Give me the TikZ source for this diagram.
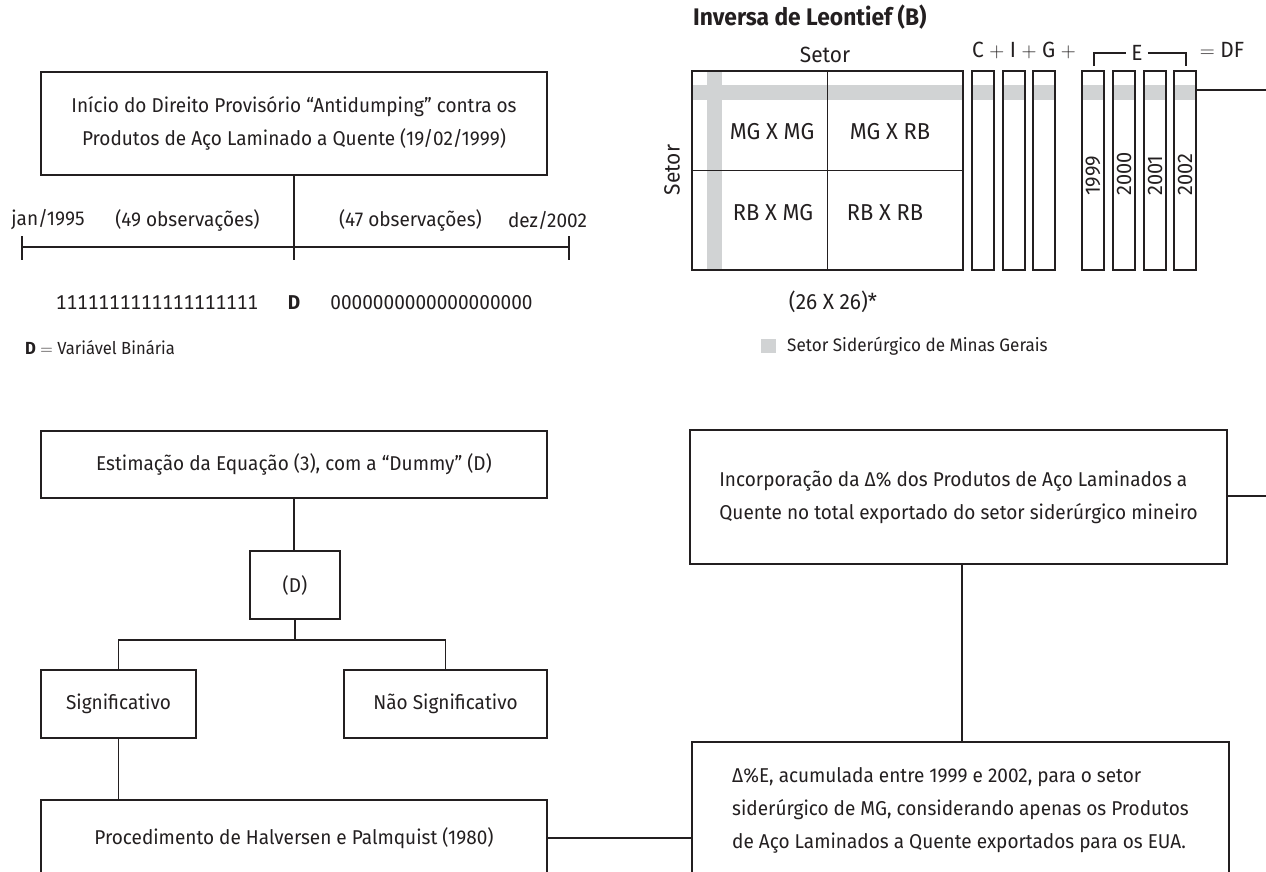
\documentclass[tikz,border=0pt]{standalone}
\usepackage{fontspec}
\setmainfont{Fira Sans}[FakeStretch=0.95]
\definecolor{ink}{RGB}{35,31,32}
\definecolor{mgband}{RGB}{209,211,212}
\tikzset{
  box/.style={draw=ink, line width=1.1pt, inner sep=0pt, align=center,
    text=ink, font=\fontsize{20}{33}\selectfont},
  leftbox/.style={box, align=left, minimum width=537},
  lbl/.style={inner sep=0pt, text=ink, font=\fontsize{20}{33}\selectfont},
  big/.style={lbl, font=\fontsize{23}{26}\selectfont},
  colbox/.style={draw=ink, line width=1.1pt, minimum width=22, minimum height=199, inner sep=0pt},
  conn/.style={draw=ink, line width=1.1pt}
}
\begin{document}
\begin{tikzpicture}[x=1pt, y=-1pt]
  \useasboundingbox (0,0) rectangle (1266,871);
  \clip (0,0) rectangle (1266,871);

  % periodo da amostra
  \node[box, minimum width=506, minimum height=103] (inicio) at (294,123.5)
    {Início do Direito Provisório “Antidumping” contra os\\Produtos de Aço Laminado a Quente (19/02/1999)};
  \coordinate (t0) at (22,247);
  \coordinate (t1) at (569,247);
  \coordinate (tm) at (294,260);
  \draw[conn] (t0) -- (t1);
  \draw[conn] (22,236) -- (22,260);
  \draw[conn] (569,236) -- (569,260);
  \draw[conn] (inicio.south) -- (tm);
  \node[lbl] (jan) at (48,220) {jan/1995};
  \node[lbl] (obs49) at (187.5,220) {(49 observações)};
  \node[lbl] (obs47) at (410.5,220) {(47 observações)};
  \node[lbl] (dez) at (547.5,220) {dez/2002};
  \node[lbl] (uns) at (157,303) {\addfontfeature{Numbers=Monospaced}1111111111111111111};
  \node[lbl, font=\fontsize{20}{24}\bfseries] (dum) at (294,303) {D};
  \node[lbl] (zeros) at (431.5,303) {\addfontfeature{Numbers=Monospaced}0000000000000000000};
  \node[lbl, font=\fontsize{17.5}{20}\selectfont, anchor=west] (legd) at (25,348) {\textbf{D} $=$ Variável Binária};

  % inversa de Leontief
  \node[lbl, anchor=west, font=\fontsize{24}{26}\bfseries] (titulo) at (693,17) {Inversa de Leontief (B)};
  \fill[mgband] (707,71) rectangle (722,270);
  \fill[mgband] (692,85) rectangle (963,100);
  \node[colbox, minimum width=271] (mat) at (827.5,170.5) {};
  \draw[conn] (mat.north) -- (mat.south);
  \draw[conn] (mat.west) -- (mat.east);
  \node[big, font=\fontsize{22}{26}\selectfont] (setorh) at (825,55) {Setor};
  \node[big, font=\fontsize{22}{26}\selectfont, rotate=90] (setorv) at (672,170) {Setor};
  \node[big] (mgmg) at (772,132) {MG X MG};
  \node[big] (mgrb) at (890,132) {MG X RB};
  \node[big] (rbmg) at (773,213) {RB X MG};
  \node[big] (rbrb) at (885,213) {RB X RB};
  \node[big, font=\fontsize{22}{26}\selectfont] (dim) at (833,302) {(26 X 26)*};
  \foreach \x/\n in {983/c, 1014/i, 1044/g} {
    \fill[mgband] (\x-11,85) rectangle (\x+11,100);
    \node[colbox] (\n) at (\x,170.5) {};
  }
  \foreach \x/\yr in {1093/1999, 1124/2000, 1155/2001, 1185/2002} {
    \fill[mgband] (\x-11,85) rectangle (\x+11,100);
    \node[colbox] (e\yr) at (\x,170.5) {};
    \node[lbl, font=\fontsize{21}{24}\selectfont, rotate=90, anchor=west] at (\x,196) {\yr};
  }
  \node[big, font=\fontsize{22}{26}\selectfont] (cig) at (1024,50) {C $+$ I $+$ G $+$};
  \node[big, font=\fontsize{22}{26}\selectfont, inner xsep=5pt] (elbl) at (1137,53) {E};
  \node[big, font=\fontsize{22}{26}\selectfont] (df) at (1222,50) {$=$ DF};
  \draw[conn] (1094,66) -- (1094,53) -- (elbl.west);
  \draw[conn] (elbl.east) -- (1186,53) -- (1186,66);
  \coordinate (dfend) at (1266,90);
  \draw[conn] (dfend -| e2002.east) -- (dfend);
  \fill[mgband] (761,339) rectangle (776,353);
  \node[lbl, font=\fontsize{18}{20}\selectfont, anchor=west] (legmg) at (787,346) {Setor Siderúrgico de Minas Gerais};

  % estimacao
  \node[box, minimum width=506, minimum height=67] (estim) at (294,464.5)
    {Estimação da Equação (3), com a “Dummy” (D)};
  \node[box, minimum width=90, minimum height=68] (dbox) at (295,585) {(D)};
  \node[box, minimum width=155, minimum height=68] (sig) at (118.5,704) {Significativo};
  \node[box, minimum width=203, minimum height=68] (nsig) at (445.5,704) {Não Significativo};
  \node[box, minimum width=506, minimum height=76] (proc) at (294,838)
    {Procedimento de Halversen e Palmquist (1980)};
  \coordinate (ramo) at (294,640);
  \draw[conn] (estim.south) -- (dbox.north -| estim.south);
  \draw[conn] (dbox.south) -- (dbox.south |- ramo);
  \draw[conn] (sig.north) -- (sig.north |- ramo) -- (nsig.north |- ramo) -- (nsig.north);
  \draw[conn] (sig.south) -- (proc.north -| sig.south);

  % variacao das exportacoes
  \node[leftbox, minimum height=134] (incorp) at (958.5,497)
    {Incorporação da Δ\% dos Produtos de Aço Laminados a\\Quente no total exportado do setor siderúrgico mineiro};
  \node[leftbox, minimum height=136] (delta) at (960.5,810)
    {Δ\%E, acumulada entre 1999 e 2002, para o setor\\siderúrgico de MG, considerando apenas os Produtos\\de Aço Laminados a Quente exportados para os EUA.};
  \coordinate (incend) at (1266,496);
  \draw[conn] (incorp.east |- incend) -- (incend);
  \draw[conn] ([xshift=3.5]incorp.south) -- ([xshift=3.5]incorp.south |- delta.north);
  \draw[conn] (proc.east) -- (proc.east -| delta.west);
\end{tikzpicture}
\end{document}
